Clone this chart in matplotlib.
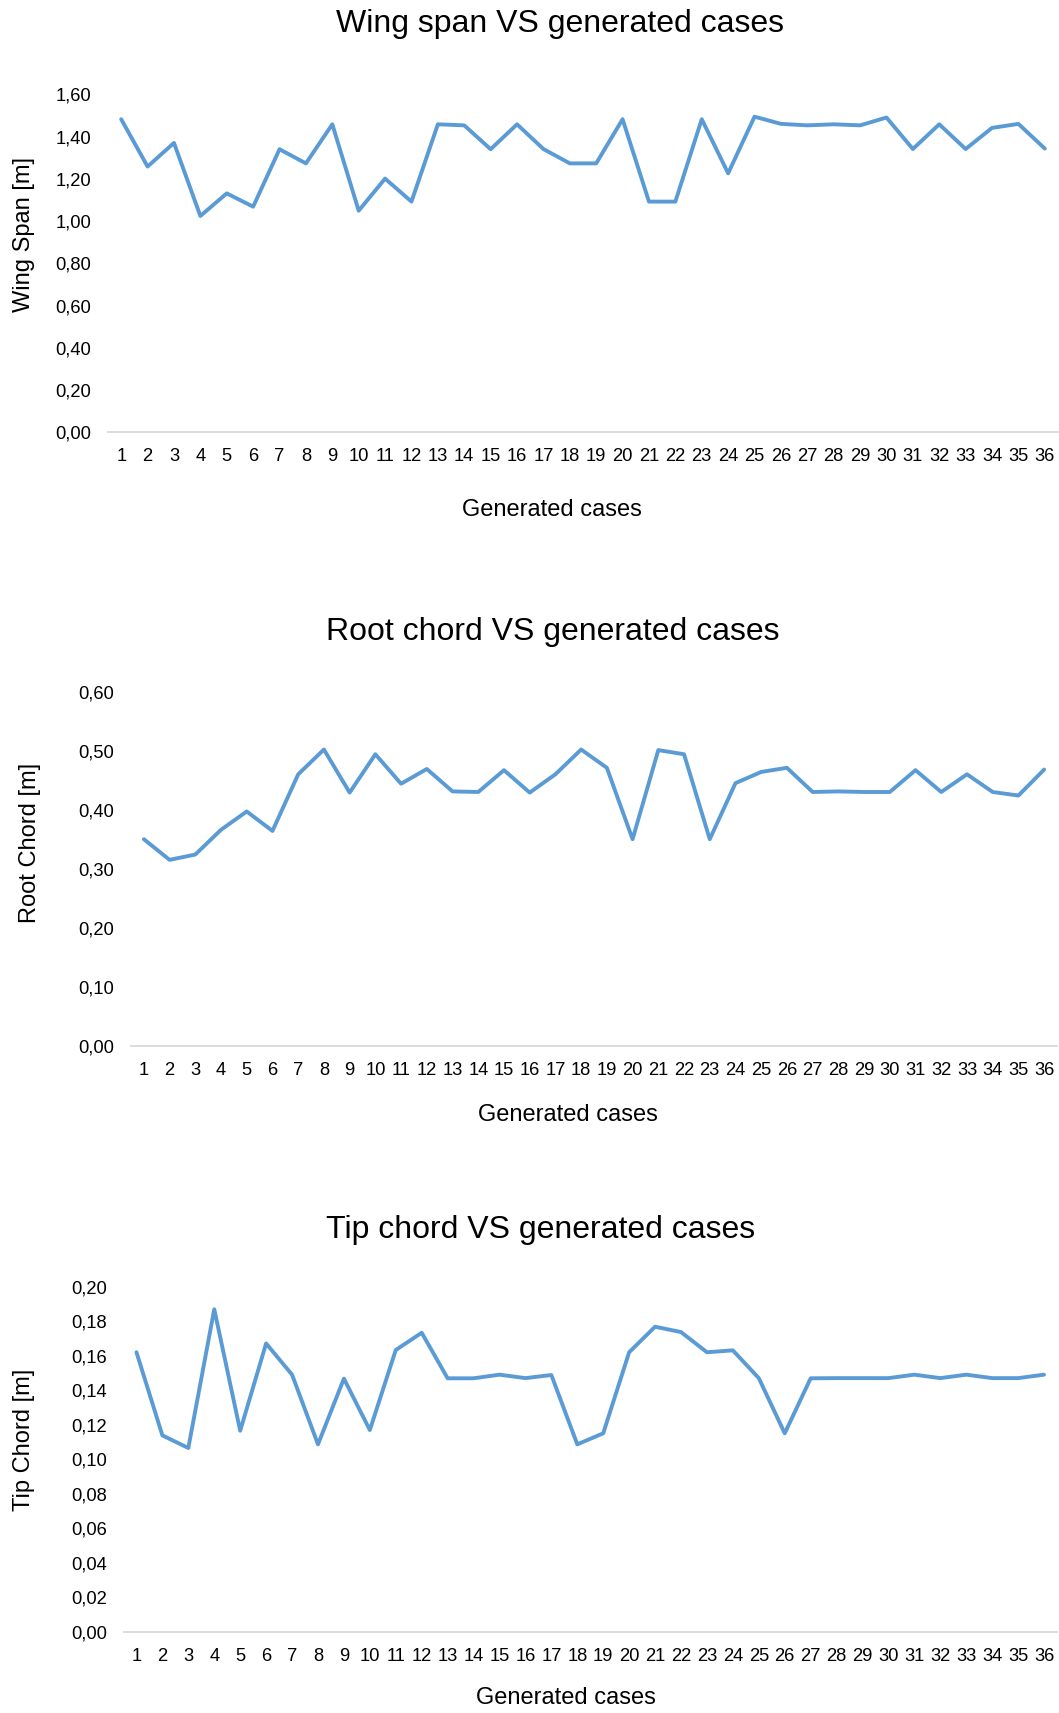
import matplotlib
matplotlib.use("Agg")
import matplotlib.pyplot as plt
from matplotlib.ticker import FuncFormatter

plt.rcParams['font.family'] = ['Liberation Sans', 'DejaVu Sans']

cases = list(range(1, 37))
case_labels = [str(c) for c in cases]

wing_span = [1.482, 1.258, 1.370, 1.024, 1.131, 1.068, 1.340, 1.273, 1.458, 1.049,
             1.201, 1.092, 1.458, 1.453, 1.340, 1.458, 1.341, 1.273, 1.273, 1.482,
             1.092, 1.092, 1.482, 1.226, 1.494, 1.460, 1.453, 1.458, 1.453, 1.490,
             1.341, 1.458, 1.341, 1.441, 1.460, 1.343]

root_chord = [0.350, 0.315, 0.324, 0.366, 0.397, 0.364, 0.460, 0.502, 0.429, 0.494,
              0.444, 0.469, 0.431, 0.430, 0.467, 0.429, 0.460, 0.502, 0.471, 0.350,
              0.501, 0.494, 0.350, 0.445, 0.464, 0.471, 0.430, 0.431, 0.430, 0.430,
              0.467, 0.430, 0.460, 0.430, 0.424, 0.468]

tip_chord = [0.162, 0.1138, 0.1065, 0.1869, 0.1165, 0.1671, 0.149, 0.1086, 0.1467, 0.1169,
             0.1633, 0.1733, 0.1469, 0.1469, 0.149, 0.147, 0.1488, 0.1086, 0.115, 0.162,
             0.1768, 0.1737, 0.162, 0.1631, 0.147, 0.115, 0.1469, 0.147, 0.147, 0.147,
             0.149, 0.147, 0.149, 0.147, 0.147, 0.149]

titles = ["Wing span VS generated cases", "Root chord VS generated cases", "Tip chord VS generated cases"]
ylabels = ["Wing Span [m]", "Root Chord [m]", "Tip Chord [m]"]
xlabel = "Generated cases"

W, H = 1059, 1713
fig = plt.figure(figsize=(W / 100, H / 100), dpi=100)

LINE = '#5B9BD5'
AXC = '#D9D9D9'

layouts = [
    dict(l=108, r=1058, t=94.3, b=432.3, ymax=1.6, step=0.2, title=(560, 24), yl=(24, 235), xl=(552, 510)),
    dict(l=131, r=1057, t=691.7, b=1045.7, ymax=0.6, step=0.1, title=(553, 632), yl=(30, 843), xl=(568, 1115)),
    dict(l=123.5, r=1057, t=1286.7, b=1631.7, ymax=0.2, step=0.02, title=(541, 1230), yl=(24, 1440), xl=(566, 1698)),
]
series = [wing_span, root_chord, tip_chord]

fmt = FuncFormatter(lambda v, p: f"{v:.2f}".replace('.', ','))

for lay, data, title, yl in zip(layouts, series, titles, ylabels):
    ax = fig.add_axes([lay['l'] / W, 1 - lay['b'] / H, (lay['r'] - lay['l']) / W, (lay['b'] - lay['t']) / H])
    ax.plot(cases, data, color=LINE, lw=2.8, solid_joinstyle='round', solid_capstyle='round')
    ax.set_xlim(0.5, 36.5)
    ax.set_ylim(0, lay['ymax'])
    n = int(round(lay['ymax'] / lay['step']))
    ax.set_yticks([i * lay['step'] for i in range(n + 1)])
    ax.yaxis.set_major_formatter(fmt)
    ax.set_xticks(cases)
    ax.set_xticklabels(case_labels)
    for s in ['top', 'right', 'left']:
        ax.spines[s].set_visible(False)
    ax.spines['bottom'].set_color(AXC)
    ax.spines['bottom'].set_linewidth(1.3)
    ax.tick_params(axis='both', length=0, labelsize=13.2, colors='#000000')
    ax.tick_params(axis='y', pad=12)
    ax.tick_params(axis='x', pad=11.5)
    ax.set_facecolor('none')
    fig.text(lay['title'][0] / W, 1 - lay['title'][1] / H, title, ha='center', va='center', fontsize=23)
    fig.text(lay['yl'][0] / W, 1 - lay['yl'][1] / H, yl, ha='center', va='center', rotation=90, fontsize=17)
    fig.text(lay['xl'][0] / W, 1 - lay['xl'][1] / H, xlabel, ha='center', va='center', fontsize=17)

fig.savefig("out.png", dpi=100, facecolor='white')
